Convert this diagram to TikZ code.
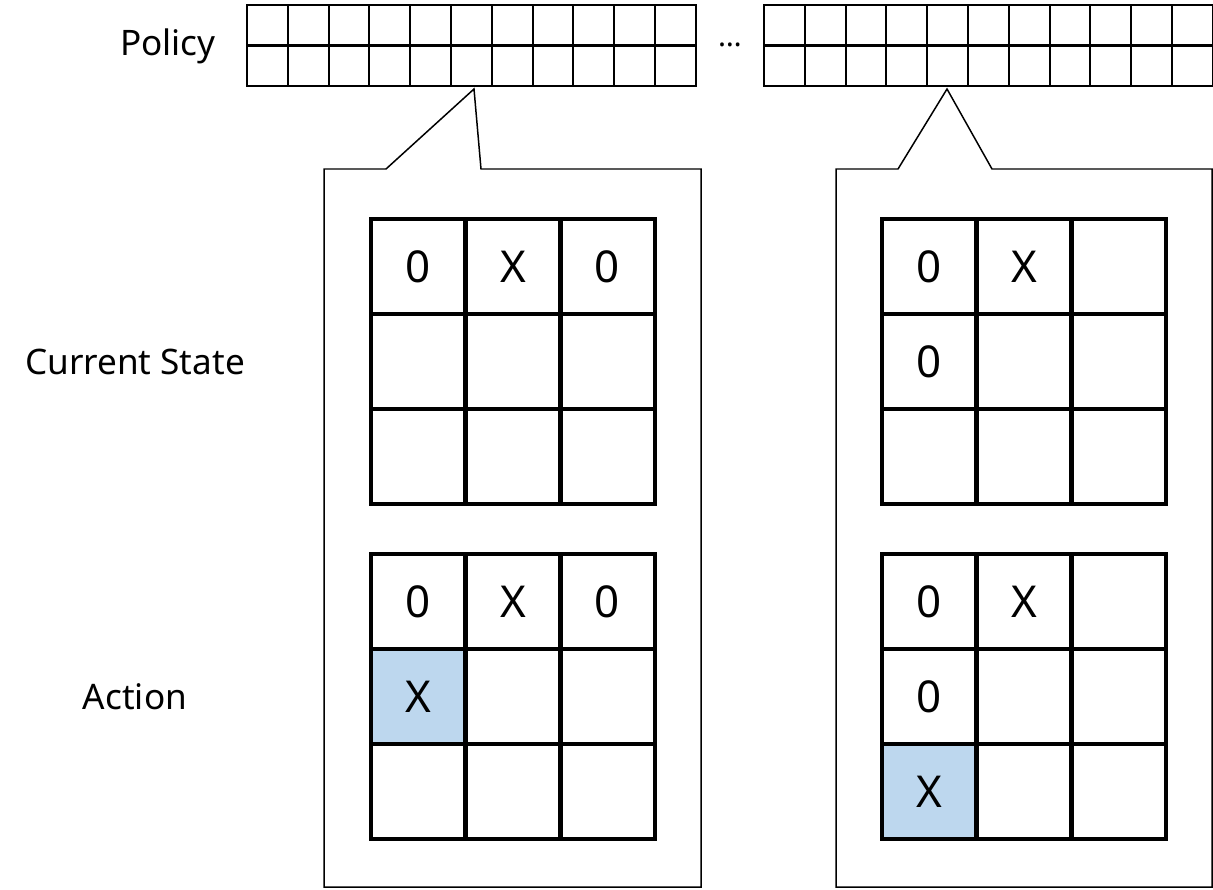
\documentclass[tikz,border=0pt]{standalone}
\usepackage{fontspec}
\setmainfont{Noto Sans}
\tikzset{
  board/.style={line width=2.6pt, line cap=rect},
  stripline/.style={line width=1.2pt},
  bubble/.style={line width=0.85pt, line join=miter},
  cellmark/.style={font=\fontsize{25}{25}\selectfont, inner sep=0pt},
  rowlabel/.style={font=\fontsize{20}{20}\selectfont, inner sep=0pt},
  picked/.style={fill={rgb,255:red,189;green,215;blue,238}}
}
\begin{document}
\begin{tikzpicture}[x=0.02cm, y=-0.02cm]
    \useasboundingbox (0,0) rectangle (1213,889);
    % row labels
    \node [rowlabel] (PolicyLabel) at (168,46) {Policy};
    \node [rowlabel] (StateLabel)  at (135,362) {Current State};
    \node [rowlabel] (ActionLabel) at (135,697) {Action};
    \node [font=\fontsize{17}{17}\selectfont, inner sep=0pt] (Dots) at (730,45) {…};
    % policy strips
    \foreach \sx in {247,764} {
      \draw [stripline] (\sx,5) rectangle (\sx+449,86);
      \draw [stripline] (\sx,45.5) -- (\sx+449,45.5);
      \foreach \i in {1,...,10}
        \draw [stripline] (\sx+\i*40.8,5) -- (\sx+\i*40.8,86);
    }
    % callouts
    \coordinate (TipA) at (474,89);
    \coordinate (TipB) at (947,89);
    \draw [bubble] (386,169) -- (TipA) -- (481,169) -- (701,169) -- (701,887) -- (324,887) -- (324,169) -- cycle;
    \draw [bubble] (898,169) -- (TipB) -- (992,169) -- (1212,169) -- (1212,887) -- (836,887) -- (836,169) -- cycle;
    % chosen moves
    \fill [picked] (371,649) rectangle (465.7,743.5);
    \fill [picked] (882,743.5) rectangle (976.7,838);
    % boards
    \foreach \bx/\by in {371/219,371/554,882/219,882/554} {
      \draw [board] (\bx,\by) rectangle (\bx+284,\by+285);
      \foreach \i in {1,2} {
        \draw [board] (\bx+\i*94.67,\by) -- (\bx+\i*94.67,\by+285);
        \draw [board] (\bx,\by+\i*95) -- (\bx+284,\by+\i*95);
      }
    }
    % marks, left
    \node [cellmark] (LsO1) at (418,267) {0};
    \node [cellmark] (LsX1) at (513,267) {X};
    \node [cellmark] (LsO2) at (607,267) {0};
    \node [cellmark] (LaO1) at (418,602) {0};
    \node [cellmark] (LaX1) at (513,602) {X};
    \node [cellmark] (LaO2) at (607,602) {0};
    \node [cellmark] (LaX2) at (418,697) {X};
    % marks, right
    \node [cellmark] (RsO1) at (929,267) {0};
    \node [cellmark] (RsX1) at (1024,267) {X};
    \node [cellmark] (RsO2) at (929,362) {0};
    \node [cellmark] (RaO1) at (929,602) {0};
    \node [cellmark] (RaX1) at (1024,602) {X};
    \node [cellmark] (RaO2) at (929,697) {0};
    \node [cellmark] (RaX2) at (929,792) {X};
  \end{tikzpicture}
\end{document}
